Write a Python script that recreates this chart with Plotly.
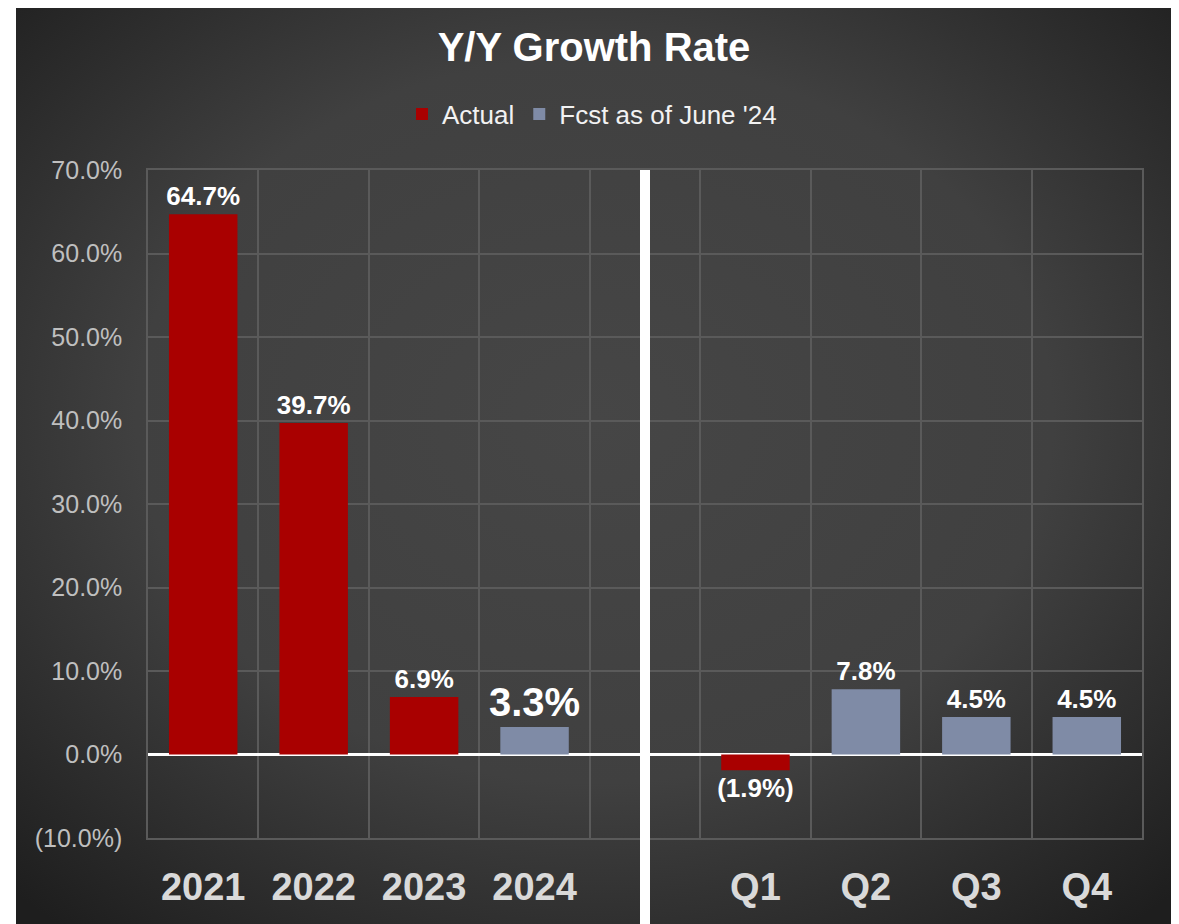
import base64
import plotly.graph_objs as go

# categories on the x axis (one blank slot separates annual and quarterly bars)
categories = ["2021", "2022", "2023", "2024", " ", "Q1", "Q2", "Q3", "Q4"]
actual = [64.7, 39.7, 6.9, None, None, -1.9, None, None, None]
forecast = [None, None, None, 3.3, None, None, 7.8, 4.5, 4.5]
y_ticks = [-10, 0, 10, 20, 30, 40, 50, 60, 70]

RED = "#A90000"
BLUE = "#7F8BA6"


def pct(v):
    if v is None:
        return None
    if v < 0:
        return "({:.1f}%)".format(-v)
    return "{:.1f}%".format(v)


def bold(s):
    return None if s is None else "<b>" + s + "</b>"


def label_size(cat):
    return 40 if cat == "2024" else 26


fig = go.Figure()

fig.add_trace(go.Bar(
    x=categories,
    y=actual,
    name="Actual",
    marker=dict(color=RED, line=dict(width=0)),
    width=0.62,
    text=[bold(pct(v)) for v in actual],
    textposition="outside",
    constraintext="none",
    cliponaxis=False,
    textfont=dict(color="white", family="Liberation Sans", size=[label_size(c) for c in categories]),
    hoverinfo="skip",
))

fig.add_trace(go.Bar(
    x=categories,
    y=forecast,
    name="Fcst as of June '24",
    marker=dict(color=BLUE, line=dict(width=0)),
    width=0.62,
    text=[bold(pct(v)) for v in forecast],
    textposition="outside",
    constraintext="none",
    cliponaxis=False,
    textfont=dict(color="white", family="Liberation Sans", size=[label_size(c) for c in categories]),
    hoverinfo="skip",
))

# page places the figure 8px in from the top-left corner
OFF = 8
W, H = 1179 - OFF, 924 - OFF
L, T = 148 - OFF, 170 - OFF
R, B = W - (1142 - OFF), H - (838 - OFF)
pw, ph = W - L - R, H - T - B

# radial gradient background behind the whole chart
svg = (
    "<svg xmlns='http://www.w3.org/2000/svg' width='1157' height='916'>"
    "<defs><radialGradient id='g' cx='50%' cy='45%' r='72%'>"
    "<stop offset='0' stop-color='#464646'/>"
    "<stop offset='0.55' stop-color='#404040'/>"
    "<stop offset='1' stop-color='#1e1e1e'/>"
    "</radialGradient></defs>"
    "<rect width='100%' height='100%' fill='url(#g)'/></svg>"
)
bg_src = "data:image/svg+xml;base64," + base64.b64encode(svg.encode()).decode()

bg_x0, bg_x1 = 16 - OFF, 1173 - OFF
fig.add_layout_image(dict(
    source=bg_src,
    xref="paper", yref="paper",
    x=(bg_x0 - L) / pw, y=(H - B) / ph,
    sizex=(bg_x1 - bg_x0) / pw, sizey=H / ph,
    xanchor="left", yanchor="top",
    sizing="stretch",
    layer="below",
))

# white separator between annual and quarterly groups
sep = categories.index(" ")
fig.add_shape(
    type="line", xref="x", yref="paper",
    x0=sep, x1=sep, y0=1, y1=-(B + 2) / ph,
    line=dict(color="white", width=10),
    layer="above",
)

fig.update_layout(
    template="none",
    width=W,
    height=H,
    autosize=False,
    margin=dict(l=L, r=R, t=T, b=B, autoexpand=False),
    paper_bgcolor="white",
    plot_bgcolor="rgba(0,0,0,0)",
    barmode="overlay",
    font=dict(family="Liberation Sans", color="white"),
    title=dict(
        text="<b>Y/Y Growth Rate</b>",
        font=dict(size=40, color="white"),
        x=(594 - OFF) / W, xref="container", xanchor="center",
        y=1 - (47 - OFF) / H, yref="container", yanchor="middle",
    ),
    legend=dict(
        orientation="h",
        x=(592 - 148) / pw, xanchor="center",
        y=1 + (170 - 114) / ph, yanchor="middle",
        font=dict(size=26, color="#f2f2f2"),
        bgcolor="rgba(0,0,0,0)",
        itemwidth=30,
    ),
)

fig.update_xaxes(
    type="category",
    categoryorder="array",
    categoryarray=categories,
    automargin=False,
    tickson="boundaries",
    tickangle=0,
    showgrid=True,
    gridcolor="#5a5a5a",
    gridwidth=1.5,
    showline=True,
    mirror=True,
    linecolor="#5a5a5a",
    linewidth=1.5,
    zeroline=False,
    ticks="",
    tickfont=dict(size=38, color="#d9d9d9", family="Liberation Sans"),
    ticklabelstandoff=15,
    tickprefix="<b>",
    ticksuffix="</b>",
)

fig.update_yaxes(
    range=[-10, 70],
    automargin=False,
    tickvals=y_ticks,
    ticktext=[pct(v) for v in y_ticks],
    showgrid=True,
    gridcolor="#5a5a5a",
    gridwidth=1.5,
    showline=True,
    mirror=True,
    linecolor="#5a5a5a",
    linewidth=1.5,
    zeroline=True,
    zerolinecolor="white",
    zerolinewidth=2.5,
    ticks="",
    tickfont=dict(size=25, color="#bfbfbf", family="Liberation Sans"),
    ticklabelstandoff=19,
)

fig.write_html("out.html")
